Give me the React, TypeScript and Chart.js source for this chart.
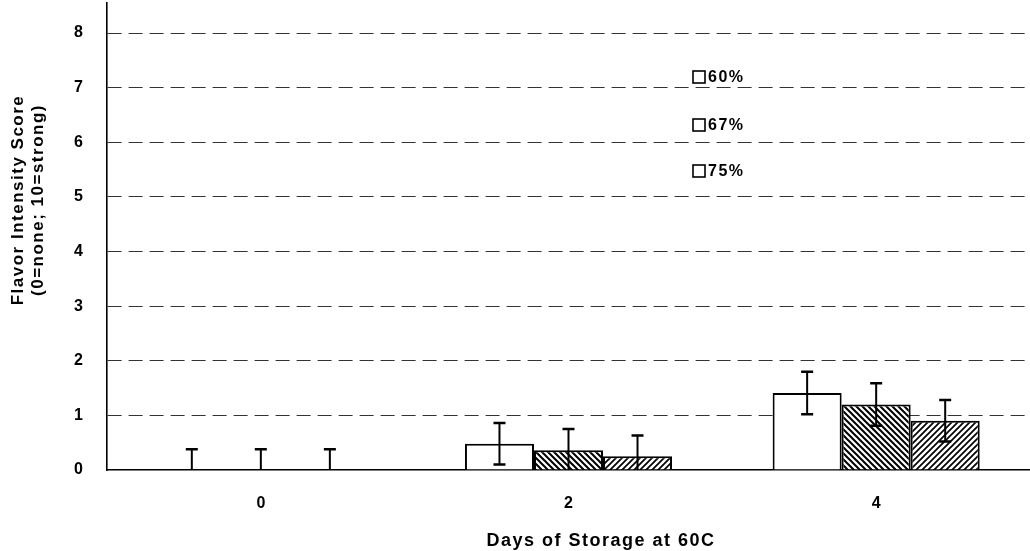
import React, { useEffect, useRef } from "react";
import { Chart, registerables } from "chart.js";

Chart.register(...registerables);

// ---- data ----
const categories = ["0", "2", "4"];
const seriesLabels = ["60%", "67%", "75%"];
const values60 = [0, 0.48, 1.41];
const values67 = [0, 0.36, 1.2];
const values75 = [0, 0.25, 0.9];
const errors60 = [0.38, 0.38, 0.39];
const errors67 = [0.38, 0.39, 0.39];
const errors75 = [0.38, 0.38, 0.38];
const yTickValues = [0, 1, 2, 3, 4, 5, 6, 7, 8];
const xAxisTitle = "Days of Storage at 60C";
const yAxisTitle = ["Flavor Intensity Score", "(0=none; 10=strong)"];

const FONT = "'Liberation Sans', Arial, sans-serif";

function makeHatch(direction: "back" | "fwd", size: number, lw: number) {
  const c = document.createElement("canvas");
  c.width = size;
  c.height = size;
  const ctx = c.getContext("2d")!;
  ctx.fillStyle = "#fff";
  ctx.fillRect(0, 0, size, size);
  ctx.strokeStyle = "#000";
  ctx.lineWidth = lw;
  ctx.beginPath();
  if (direction === "fwd") {
    ctx.moveTo(-1, size + 1);
    ctx.lineTo(size + 1, -1);
    ctx.moveTo(-1, 1);
    ctx.lineTo(1, -1);
    ctx.moveTo(size - 1, size + 1);
    ctx.lineTo(size + 1, size - 1);
  } else {
    ctx.moveTo(-1, -1);
    ctx.lineTo(size + 1, size + 1);
    ctx.moveTo(size - 1, -1);
    ctx.lineTo(size + 1, 1);
    ctx.moveTo(-1, size - 1);
    ctx.lineTo(1, size + 1);
  }
  ctx.stroke();
  return ctx.createPattern(c, "repeat")!;
}

const errorBarPlugin = {
  id: "errorBars",
  afterDatasetsDraw(chart: any) {
    const ctx = chart.ctx;
    const y = chart.scales.y;
    const area = chart.chartArea;
    ctx.save();
    ctx.beginPath();
    ctx.rect(area.left, area.top, area.right - area.left, area.bottom - area.top);
    ctx.clip();
    ctx.strokeStyle = "#000";
    chart.data.datasets.forEach((ds: any, i: number) => {
      const meta = chart.getDatasetMeta(i);
      meta.data.forEach((bar: any, j: number) => {
        const v = ds.data[j];
        const e = ds.errors[j];
        const x = bar.x;
        const yt = y.getPixelForValue(v + e);
        const yb = y.getPixelForValue(v - e);
        ctx.lineWidth = 2;
        ctx.beginPath();
        ctx.moveTo(x, yt);
        ctx.lineTo(x, yb);
        ctx.stroke();
        ctx.lineWidth = 2.5;
        ctx.beginPath();
        ctx.moveTo(x - 6, yt);
        ctx.lineTo(x + 6, yt);
        ctx.moveTo(x - 6, yb);
        ctx.lineTo(x + 6, yb);
        ctx.stroke();
      });
    });
    ctx.restore();
  },
};

const legendPlugin = {
  id: "insideLegend",
  afterDraw(chart: any) {
    const ctx = chart.ctx;
    const centers = [77, 125, 171];
    ctx.save();
    chart.data.datasets.forEach((ds: any, i: number) => {
      const cy = centers[i];
      ctx.fillStyle = "#fff";
      ctx.strokeStyle = "#000";
      ctx.lineWidth = 1.6;
      ctx.fillRect(693, cy - 6, 12, 12);
      ctx.strokeRect(693, cy - 6, 12, 12);
      ctx.fillStyle = "#000";
      ctx.font = "bold 16px " + FONT;
      try {
        (ctx as any).letterSpacing = "1.5px";
      } catch (e) {}
      ctx.textAlign = "left";
      ctx.textBaseline = "middle";
      ctx.fillText(ds.label, 708, cy + 1);
    });
    ctx.restore();
  },
};

const axisTitlePlugin = {
  id: "axisTitles",
  afterDraw(chart: any) {
    const ctx = chart.ctx;
    ctx.save();
    ctx.fillStyle = "#000";
    try {
      (ctx as any).letterSpacing = "1.5px";
    } catch (e) {}
    ctx.textAlign = "center";
    ctx.textBaseline = "middle";
    // x axis title
    ctx.font = "bold 18px " + FONT;
    ctx.fillText(xAxisTitle, 601, 541);
    // y axis title (two lines, rotated)
    ctx.translate(18, 200);
    ctx.rotate(-Math.PI / 2);
    ctx.font = "bold 17px " + FONT;
    yAxisTitle.forEach((line, i) => ctx.fillText(line, 0, i * 20));
    ctx.restore();
  },
};

export default function App() {
  const canvasRef = useRef<HTMLCanvasElement | null>(null);

  useEffect(() => {
    document.body.style.margin = "0";
    const canvas = canvasRef.current!;
    const hatchBack = makeHatch("back", 6, 2);
    const hatchFwd = makeHatch("fwd", 6, 1.7);

    const chart = new Chart(canvas, {
      type: "bar",
      data: {
        labels: categories,
        datasets: [
          {
            label: seriesLabels[0],
            data: values60,
            errors: errors60,
            backgroundColor: "#ffffff",
            borderColor: "#000",
            borderWidth: 2,
          } as any,
          {
            label: seriesLabels[1],
            data: values67,
            errors: errors67,
            backgroundColor: hatchBack,
            borderColor: "#000",
            borderWidth: 2,
          } as any,
          {
            label: seriesLabels[2],
            data: values75,
            errors: errors75,
            backgroundColor: hatchFwd,
            borderColor: "#000",
            borderWidth: 2,
          } as any,
        ],
      },
      options: {
        responsive: false,
        animation: false,
        events: [],
        layout: { autoPadding: false, padding: { top: 3, right: 0, bottom: 0, left: 0 } },
        datasets: {
          bar: { categoryPercentage: 0.673, barPercentage: 1.0 },
        },
        plugins: {
          legend: { display: false },
          tooltip: { enabled: false },
          title: { display: false },
        },
        scales: {
          x: {
            grid: { display: false, drawTicks: false },
            border: { display: true, color: "#000", width: 1.6 },
            ticks: {
              color: "#000",
              font: { family: FONT, size: 16, weight: "bold" },
              padding: 24,
            },
            title: { display: false, text: xAxisTitle },
            afterFit: (scale: any) => {
              scale.height = 81;
              scale.paddingLeft = 0;
              scale.paddingRight = 0;
            },
          },
          y: {
            min: 0,
            max: 8.55,
            afterBuildTicks: (scale: any) => {
              scale.ticks = yTickValues.map((v) => ({ value: v }));
            },
            grid: {
              drawTicks: false,
              color: (c: any) => (c.tick && c.tick.value === 0 ? "rgba(0,0,0,0)" : "#333"),
              lineWidth: 1,
            },
            border: { display: true, color: "#000", width: 1.6, dash: [14, 7] } as any,
            ticks: {
              color: "#000",
              font: { family: FONT, size: 16, weight: "bold" },
              padding: 24,
            },
            title: { display: false, text: yAxisTitle },
            afterFit: (scale: any) => {
              scale.width = 107;
              scale.paddingTop = 0;
              scale.paddingBottom = 0;
            },
          },
        },
      },
      plugins: [errorBarPlugin, legendPlugin, axisTitlePlugin],
    } as any);

    return () => chart.destroy();
  }, []);

  return (
    <div style={{ position: "fixed", left: 0, top: 0, width: 1030, height: 551, background: "#fff" }}>
      <canvas ref={canvasRef} width={1030} height={551} />
    </div>
  );
}
